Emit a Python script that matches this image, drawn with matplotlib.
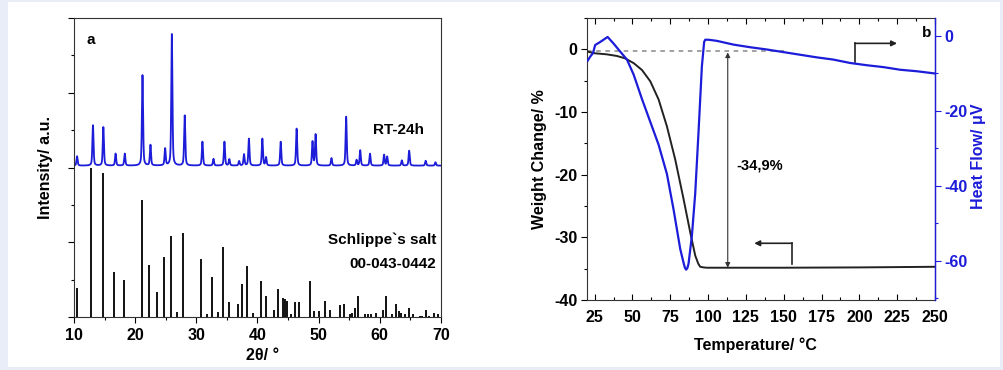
import matplotlib
matplotlib.use("Agg")
import matplotlib.pyplot as plt
from matplotlib.patches import Rectangle
from matplotlib.ticker import MultipleLocator
import numpy as np

plt.rcParams['font.family'] = ['Liberation Sans', 'DejaVu Sans']
plt.rcParams['font.weight'] = 'bold'
plt.rcParams['axes.unicode_minus'] = False

BLUE = '#1c1cd9'

# --- panel a: XRD ---
# reference pattern 00-043-0442 (2theta, relative intensity)
ref_pos = [10.5, 12.7, 14.75, 16.6, 18.2, 21.1, 22.3, 23.5, 24.7, 25.8, 26.9, 27.9,
           30.8, 31.8, 32.6, 33.6, 34.4, 35.3, 36.8, 37.5, 38.3, 39.2, 40.5, 41.4,
           42.7, 43.4, 44.1, 44.5, 44.9, 45.4, 46.1, 46.8, 48.6, 49.3, 50.0, 51.1,
           51.8, 53.5, 54.2, 55.1, 55.5, 55.9, 56.5, 57.6, 58.1, 58.6, 59.4, 60.5,
           61.0, 62.0, 62.6, 63.1, 63.5, 64.1, 64.7, 65.4, 66.5, 66.9, 67.5, 68.0,
           68.9, 69.5]
ref_int = [0.195, 1.0, 0.96, 0.30, 0.25, 0.78, 0.35, 0.17, 0.40, 0.54, 0.034, 0.56,
           0.39, 0.022, 0.27, 0.034, 0.47, 0.10, 0.09, 0.22, 0.34, 0.03, 0.24, 0.14,
           0.05, 0.19, 0.13, 0.12, 0.11, 0.02, 0.10, 0.10, 0.24, 0.04, 0.04, 0.11,
           0.05, 0.08, 0.09, 0.02, 0.03, 0.06, 0.14, 0.02, 0.02, 0.02, 0.03, 0.05,
           0.14, 0.02, 0.09, 0.04, 0.03, 0.02, 0.06, 0.02, 0.01, 0.01, 0.05, 0.01,
           0.03, 0.02]

# measured RT-24h peaks (2theta, height above baseline)
rt_pos = [10.5, 13.1, 14.8, 16.8, 18.3, 21.2, 22.5, 24.9, 26.0, 28.1, 31.0, 32.8,
          34.6, 35.4, 37.0, 37.8, 38.6, 40.8, 41.4, 43.8, 46.4, 49.0, 49.5, 52.1,
          54.5, 56.2, 56.8, 58.4, 60.7, 61.2, 63.6, 64.8, 67.5, 69.1]
rt_hgt = [0.25, 1.08, 1.03, 0.32, 0.32, 2.42, 0.55, 0.45, 3.52, 1.34, 0.64, 0.18,
          0.64, 0.17, 0.12, 0.30, 0.72, 0.72, 0.22, 0.64, 0.99, 0.64, 0.83, 0.20,
          1.31, 0.15, 0.41, 0.32, 0.29, 0.24, 0.14, 0.40, 0.13, 0.09]
rt_base = 4.05
ref_scale = 4.0

# --- panel b: TG / DSC ---
tg_t = [20.4, 25, 33, 39.7, 45, 50.8, 56.3, 61.8, 67.3, 72.8, 78.3, 83.8, 88.2,
        91.5, 93.5, 94.8, 97, 99.2, 150, 200, 250]
tg_w = [-0.37, -0.63, -0.8, -1.06, -1.43, -2.2, -3.3, -5.1, -8.0, -12.3, -17.6,
        -23.9, -29.2, -32.9, -34.2, -34.7, -34.8, -34.85, -34.85, -34.8, -34.7]

dsc_t = [20.4, 22.1, 23.9, 25.4, 28.7, 33.6, 37.5, 42, 46.4, 50.8, 56.3, 61.8,
         67.3, 72.8, 77.2, 81.6, 83.8, 84.7, 85.5, 86.3, 87.1, 89.3, 91.5, 93.7,
         95.9, 97.4, 98.1, 100.3, 105.8, 116.8, 127.8, 138.8, 149.8, 160.8, 171.8,
         182.9, 193.9, 204.9, 215.9, 226.9, 237.9, 250]
dsc_q = [-6.6, -5.5, -4.6, -2.4, -1.6, -0.26, -2.0, -4.2, -6.3, -10.3, -16.8,
         -22.9, -29.0, -36.8, -46.3, -56.8, -60.5, -61.8, -62.3, -61.9, -60.7,
         -53.3, -42.0, -25.5, -8.1, -1.6, -1.0, -1.0, -1.3, -2.3, -3.0, -3.6, -4.3,
         -5.0, -5.7, -6.3, -7.2, -7.8, -8.3, -9.0, -9.4, -10.0]

mass_loss = '-34,9%'

fig = plt.figure(figsize=(10.04, 3.70), dpi=100, facecolor='#e8edf7')
fig.patches.append(Rectangle((8 / 1004, 3 / 370), 992 / 1004, 365 / 370,
                             transform=fig.transFigure, facecolor='white',
                             edgecolor='none', zorder=-10))

# panel a
axa = fig.add_axes([0.0737, 0.1432, 0.3655, 0.8081])
tt = np.linspace(10, 70, 6000)
prof = np.full_like(tt, rt_base)
for p, h in zip(rt_pos, rt_hgt):
    w = 0.11
    prof += h * (0.5 / (1 + ((tt - p) / w) ** 2) + 0.5 * np.exp(-((tt - p) / w) ** 2 * 0.69))
axa.plot(tt, prof, color=BLUE, lw=1.3)
axa.vlines(ref_pos, 0, np.array(ref_int) * ref_scale, color='#111111', lw=1.4)
axa.set_xlim(10, 70)
axa.set_ylim(0, 8)
axa.xaxis.set_major_locator(MultipleLocator(10))
axa.xaxis.set_minor_locator(MultipleLocator(5))
axa.yaxis.set_major_locator(MultipleLocator(2))
axa.yaxis.set_minor_locator(MultipleLocator(1))
axa.tick_params(axis='both', which='both', direction='out', labelsize=11.5, width=0.8)
axa.tick_params(which='major', length=4)
axa.tick_params(which='minor', length=2.5)
axa.tick_params(axis='x', pad=4)
axa.set_yticklabels([])
for s in axa.spines.values():
    s.set_linewidth(0.8)
    s.set_color('#333333')
axa.set_ylabel('Intensity/ a.u.', fontsize=11.5, fontweight='bold')
axa.yaxis.set_label_coords(-0.057, 0.5)
axa.set_xlabel('2θ/ °', fontsize=11.5, fontweight='bold')
axa.xaxis.set_label_coords(0.515, -0.105)
axa.text(0.034, 0.95, 'a', transform=axa.transAxes, fontsize=11, fontweight='bold',
         va='top', ha='left')
axa.text(67.3, 5.0, 'RT-24h', fontsize=11, fontweight='bold', ha='right', va='center')
axa.text(69.3, 2.07, 'Schlippe`s salt', fontsize=11, fontweight='bold', ha='right', va='center')
axa.text(69.2, 1.43, '00-043-0442', fontsize=11, fontweight='bold', ha='right', va='center')

# panel b
axb = fig.add_axes([0.5847, 0.1892, 0.3466, 0.7622])
axb.plot(tg_t, tg_w, color='#222222', lw=1.4, zorder=3)
axb.set_xlim(20, 250)
axb.set_ylim(-40, 5)
axb.xaxis.set_major_locator(MultipleLocator(25))
axb.xaxis.set_minor_locator(MultipleLocator(12.5))
axb.yaxis.set_major_locator(MultipleLocator(10))
axb.yaxis.set_minor_locator(MultipleLocator(5))
axb.tick_params(axis='x', which='both', direction='in', top=True, labelsize=11.5, pad=7)
axb.tick_params(axis='y', which='both', direction='out', labelsize=11.5, pad=3)
axb.tick_params(which='major', length=4, width=0.8)
axb.tick_params(which='minor', length=2.5, width=0.8)
for s in axb.spines.values():
    s.set_linewidth(0.8)
    s.set_color('#333333')
axb.set_ylabel('Weight Change/ %', fontsize=11.5, fontweight='bold')
axb.yaxis.set_label_coords(-0.115, 0.5)
axb.set_xlabel('Temperature/ °C', fontsize=11.5, fontweight='bold')
axb.xaxis.set_label_coords(0.483, -0.131)

axb.plot([20, 152], [-0.2, -0.2], color='#888888', lw=1.1, ls=(0, (3, 3)))
axb.annotate('', xy=(113, -0.5), xytext=(113, -34.85),
             arrowprops=dict(arrowstyle='<|-|>', color='#333333', lw=0.8,
                             mutation_scale=7, shrinkA=0, shrinkB=0))
axb.text(119, -18.5, mass_loss, fontsize=10.5, fontweight='bold', ha='left', va='center')

axb.plot([197, 197], [-1.97, 0.95], color='#222222', lw=1.2)
axb.annotate('', xy=(224.9, 0.95), xytext=(197, 0.95),
             arrowprops=dict(arrowstyle='-|>', color='#222222', lw=1.2,
                             mutation_scale=8, shrinkA=0, shrinkB=0))
axb.plot([155.6, 155.6], [-34.2, -30.95], color='#222222', lw=1.2)
axb.annotate('', xy=(130.5, -30.95), xytext=(155.6, -30.95),
             arrowprops=dict(arrowstyle='-|>', color='#222222', lw=1.2,
                             mutation_scale=8, shrinkA=0, shrinkB=0))
axb.text(247.3, 2.6, 'b', fontsize=11, fontweight='bold', ha='right', va='center')

axr = axb.twinx()
axr.plot(dsc_t, dsc_q, color=BLUE, lw=1.6)
axr.set_ylim(-70.4, 4.8)
axr.yaxis.set_major_locator(MultipleLocator(20))
axr.yaxis.set_minor_locator(MultipleLocator(10))
axr.tick_params(axis='y', which='both', direction='out', colors=BLUE, labelsize=11.5, pad=3)
axr.tick_params(which='major', length=4, width=0.8)
axr.tick_params(which='minor', length=2.5, width=0.8)
axr.spines['right'].set_color(BLUE)
axr.spines['right'].set_linewidth(1.0)
for k in ('left', 'top', 'bottom'):
    axr.spines[k].set_visible(False)
axr.set_ylabel('Heat Flow/ μV', fontsize=11.5, fontweight='bold', color=BLUE)
axr.yaxis.set_label_coords(1.103, 0.508)

fig.savefig('out.png', dpi=100, facecolor=fig.get_facecolor())
